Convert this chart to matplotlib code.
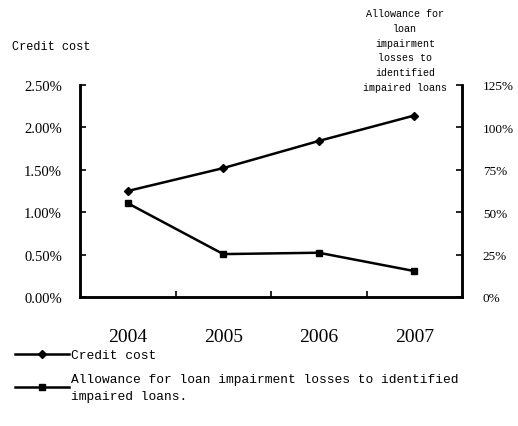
import matplotlib
matplotlib.use("Agg")
import matplotlib.pyplot as plt
from matplotlib.ticker import FuncFormatter

plt.rcParams['font.family'] = ['Liberation Serif', 'DejaVu Serif']
MONO = ['Liberation Mono', 'DejaVu Sans Mono']

years = ["2004", "2005", "2006", "2007"]
credit_cost = [1.25, 1.52, 1.84, 2.14]          # %, left axis
allowance = [55.3, 25.3, 26.1, 15.3]            # %, right axis

fig = plt.figure(figsize=(5.18, 4.27), dpi=100)
ax = fig.add_axes([80 / 518, 129 / 427, 382 / 518, 212 / 427])
ax2 = ax.twinx()

x = list(range(len(years)))
l1, = ax.plot(x, credit_cost, color="black", lw=1.8, marker="D", ms=4)
l2, = ax2.plot(x, allowance, color="black", lw=1.8, marker="s", ms=5)

ax.set_xlim(-0.5, 3.5)
ax.set_ylim(0, 2.5)
ax2.set_ylim(0, 125)
ax.set_yticks([0, 0.5, 1.0, 1.5, 2.0, 2.5])
ax2.set_yticks([0, 25, 50, 75, 100, 125])
ax.yaxis.set_major_formatter(FuncFormatter(lambda v, p: "%.2f%%" % v))
ax2.yaxis.set_major_formatter(FuncFormatter(lambda v, p: "%d%%" % v))

ax.set_xticks(x)
ax.set_xticklabels(years, fontsize=14)
ax.set_xticks([0.5, 1.5, 2.5], minor=True)
ax.tick_params(axis="x", which="major", length=0, pad=22)
ax.tick_params(axis="x", which="minor", direction="in", length=4, width=1.2)
ax.tick_params(axis="y", direction="in", length=4, width=1.2, labelsize=10.5, pad=13)
ax2.tick_params(axis="y", direction="in", length=4, width=1.2, labelsize=9.5, pad=15)

for a in (ax, ax2):
    a.spines["top"].set_visible(False)
    for s in ("left", "right", "bottom"):
        a.spines[s].set_linewidth(1.8)

fig.text(12 / 518, 1 - 47 / 427, "Credit cost", fontsize=8.6, va="center",
         family=MONO)
fig.text(405 / 518, 1 - 9 / 427,
         "Allowance for\nloan\nimpairment\nlosses to\nidentified\nimpaired loans",
         fontsize=7.2, ha="center", va="top", linespacing=1.6, family=MONO)

leg = fig.legend([l1, l2],
                 ["Credit cost",
                  "Allowance for loan impairment losses to identified\nimpaired loans."],
                 loc="upper left", bbox_to_anchor=(0.028, 1 - 350 / 427),
                 frameon=False, handlelength=4.2, handletextpad=0.2,
                 labelspacing=0.9, borderaxespad=0, borderpad=0,
                 prop={"family": MONO, "size": 9.3})
for t in leg.get_texts():
    t.set_linespacing(1.6)

fig.savefig("out.png", dpi=100)
